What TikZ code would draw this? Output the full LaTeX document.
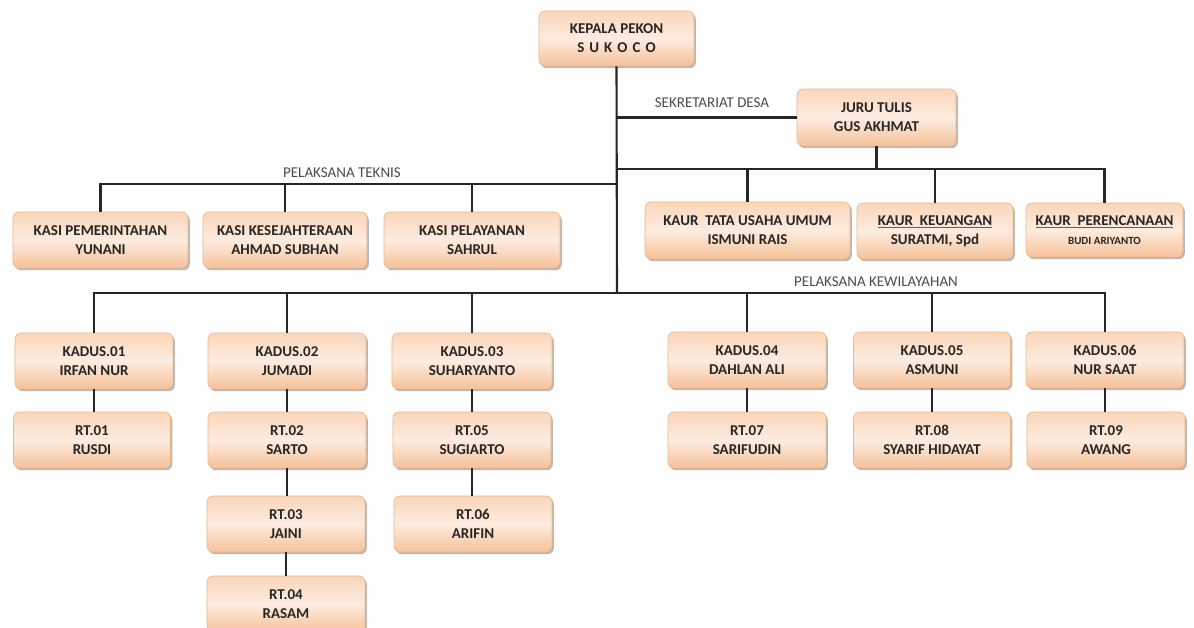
\documentclass[tikz,border=0pt]{standalone}
\usepackage{fontspec}
\setmainfont{Carlito}
\usetikzlibrary{shadows}
\definecolor{pkTop}{HTML}{FAD6B9}
\definecolor{pkMid}{HTML}{FDECDF}
\definecolor{pkBot}{HTML}{F6C198}
\definecolor{pkBorder}{HTML}{EFB585}
\definecolor{txt}{HTML}{262626}
\definecolor{ulblue}{HTML}{3A5FCD}
\newcommand{\blueul}[1]{\setbox0\hbox{#1}\rlap{\usebox0}\raisebox{-2.5pt}{\textcolor{ulblue}{\rule{\wd0}{1.1pt}}}}
\begin{document}
\begin{tikzpicture}[x=1pt,y=-1pt,
  orgbox/.style={rectangle, rounded corners=6pt, draw=pkBorder, line width=0.6pt,
    top color=pkTop, bottom color=pkBot, middle color=pkMid,
    drop shadow={shadow xshift=1.8pt,shadow yshift=-2.2pt,opacity=0.5,fill=black!55},
    align=center, font=\fontsize{15}{19}\selectfont\bfseries, text=txt,
    inner sep=0pt, minimum height=56pt, minimum width=158pt},
  conn/.style={line width=2.1pt, draw=black!85},
  grp/.style={font=\fontsize{15}{18}\selectfont, text=black!70}]
\useasboundingbox (0,0) rectangle (1194,627);
\fill[white] (0,0) rectangle (1194,627);

% top
\node[orgbox, minimum width=155pt, minimum height=55pt] (kepala) at (616.5,38.5) {KEPALA PEKON\\S\,\,U\,\,K\,\,O\,\,C\,\,O};
\node[orgbox, minimum width=159pt, minimum height=57pt] (juru) at (876.5,117.5) {JURU TULIS\\GUS AKHMAT};

% kaur
\node[orgbox, minimum width=205pt, minimum height=57pt] (kaur1) at (747.5,230.5) {KAUR\ \ TATA USAHA UMUM\\ISMUNI RAIS};
\node[orgbox, minimum width=156pt] (kaur2) at (935,231) {\blueul{KAUR\ \ KEUANGAN}\\SURATMI, Spd};
\node[orgbox, minimum width=157pt, minimum height=54pt] (kaur3) at (1104.5,230) {\blueul{KAUR\ \ PERENCANAAN}\\{\fontsize{11}{14}\selectfont BUDI ARIYANTO}};

% kasi
\node[orgbox, minimum width=175pt] (kasi1) at (100.5,240) {KASI PEMERINTAHAN\\YUNANI};
\node[orgbox, minimum width=164pt] (kasi2) at (285,240) {KASI KESEJAHTERAAN\\AHMAD SUBHAN};
\node[orgbox, minimum width=176pt] (kasi3) at (472,240) {KASI PELAYANAN\\SAHRUL};

% kadus
\node[orgbox] (kad1) at (94,361) {KADUS.01\\IRFAN NUR};
\node[orgbox] (kad2) at (287,361) {KADUS.02\\JUMADI};
\node[orgbox, minimum width=160pt] (kad3) at (472,361) {KADUS.03\\SUHARYANTO};
\node[orgbox] (kad4) at (747,360) {KADUS.04\\DAHLAN ALI};
\node[orgbox, minimum width=157pt] (kad5) at (932,360) {KADUS.05\\ASMUNI};
\node[orgbox] (kad6) at (1105,360) {KADUS.06\\NUR SAAT};

% RT
\node[orgbox, minimum width=157pt] (rt01) at (92,440) {RT.01\\RUSDI};
\node[orgbox] (rt02) at (287,440) {RT.02\\SARTO};
\node[orgbox] (rt03) at (286,524) {RT.03\\JAINI};
\node[orgbox] (rt04) at (286,604) {RT.04\\RASAM};
\node[orgbox] (rt05) at (472,440) {RT.05\\SUGIARTO};
\node[orgbox] (rt06) at (473,524) {RT.06\\ARIFIN};
\node[orgbox] (rt07) at (747,440) {RT.07\\SARIFUDIN};
\node[orgbox, minimum width=157pt] (rt08) at (932,440) {RT.08\\SYARIF HIDAYAT};
\node[orgbox] (rt09) at (1106,440) {RT.09\\AWANG};

% group labels
\node[grp] (lsek) at (712,103) {SEKRETARIAT DESA};
\node[grp] (ltek) at (342,173) {PELAKSANA TEKNIS};
\node[grp] (lkew) at (876,282) {PELAKSANA KEWILAYAHAN};

% junction coordinates
\coordinate (jsek) at (617,117.5);
\coordinate (jkaur) at (617,169);
\coordinate (jtek) at (617,184);
\coordinate (jkew) at (617,293);

% connectors
\draw[conn] (kepala.south) -- (jkew);
\draw[conn] (jsek) -- (juru.west);
\draw[conn] (juru.south) -- (juru.south |- jkaur);
\draw[conn] (jkaur) -| (kaur3.north);
\draw[conn] (kaur1.north) -- (kaur1.north |- jkaur);
\draw[conn] (kaur2.north) -- (kaur2.north |- jkaur);
\draw[conn] (kasi1.north) |- (jtek);
\draw[conn] (kasi2.north) -- (kasi2.north |- jtek);
\draw[conn] (kasi3.north) -- (kasi3.north |- jtek);
\draw[conn] (kad1.north) |- (jkew) -| (kad6.north);
\draw[conn] (kad2.north) -- (kad2.north |- jkew);
\draw[conn] (kad3.north) -- (kad3.north |- jkew);
\draw[conn] (kad4.north) -- (kad4.north |- jkew);
\draw[conn] (kad5.north) -- (kad5.north |- jkew);
\draw[conn] (kad1.south) -- (kad1.south |- rt01.north);
\draw[conn] (kad2.south) -- (rt02.north);
\draw[conn] (rt02.south) -- (rt02.south |- rt03.north);
\draw[conn] (rt03.south) -- (rt04.north);
\draw[conn] (kad3.south) -- (kad3.south |- rt05.north);
\draw[conn] (rt05.south) -- (rt05.south |- rt06.north);
\draw[conn] (kad4.south) -- (rt07.north);
\draw[conn] (kad5.south) -- (rt08.north);
\draw[conn] (kad6.south) -- (kad6.south |- rt09.north);
\end{tikzpicture}
\end{document}
